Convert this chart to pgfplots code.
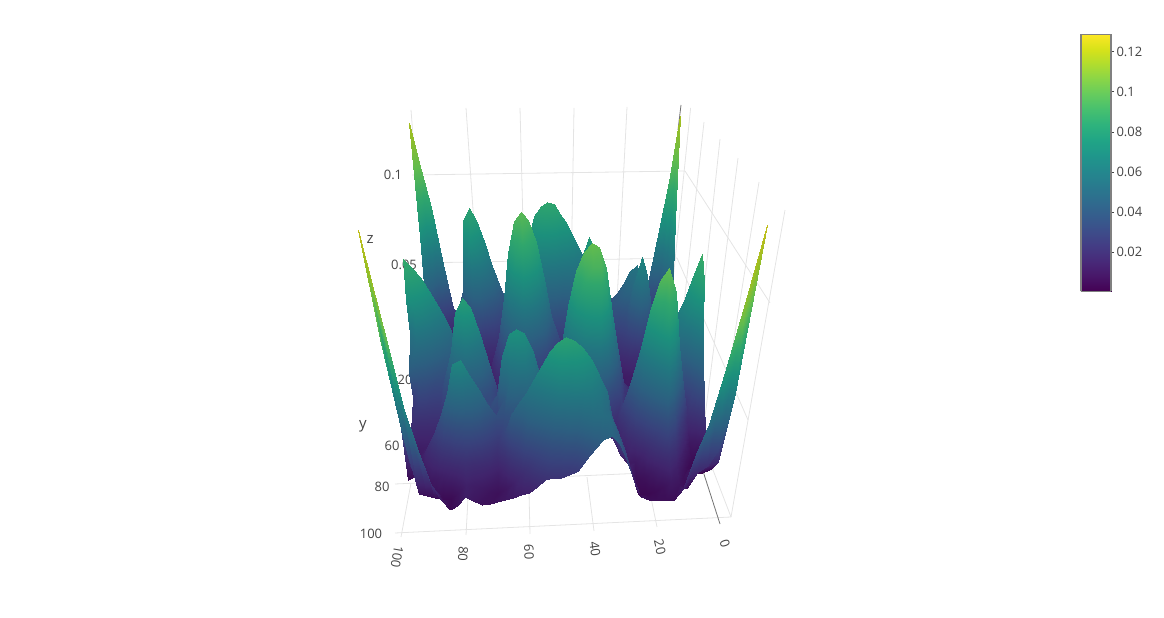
\documentclass[border=0pt]{standalone}
\usepackage{pgfplots}
\usepackage{pgfplotstable}
\usepackage{fontspec}
\setmainfont{Open Sans}
\pgfplotsset{compat=1.18}
\definecolor{tx}{HTML}{444444}
\definecolor{gl}{HTML}{E4E4E4}
\pgfplotstableread[row sep=\\]{
z\\
.128\\.106\\.088\\.058\\.033\\.030\\.035\\.056\\.078\\.072\\.060\\.048\\.038\\.030\\.025\\.026\\.032\\.052\\.072\\.080\\.084\\.084\\.080\\.075\\.068\\.059\\.050\\.044\\.040\\.037\\.035\\.037\\.040\\.043\\.045\\.040\\.033\\.050\\.073\\.098\\.128\\
.075\\.045\\.022\\.015\\.013\\.035\\.046\\.083\\.089\\.083\\.072\\.059\\.049\\.039\\.032\\.044\\.060\\.074\\.084\\.089\\.091\\.090\\.085\\.080\\.073\\.067\\.060\\.052\\.045\\.041\\.038\\.041\\.045\\.049\\.050\\.038\\.025\\.020\\.020\\.046\\.080\\
.040\\.026\\.015\\.011\\.010\\.025\\.040\\.060\\.075\\.067\\.058\\.049\\.040\\.033\\.028\\.037\\.048\\.060\\.070\\.073\\.072\\.070\\.066\\.062\\.060\\.060\\.062\\.057\\.050\\.045\\.042\\.045\\.050\\.057\\.060\\.046\\.030\\.020\\.014\\.025\\.040\\
.020\\.014\\.010\\.008\\.008\\.014\\.022\\.036\\.048\\.046\\.040\\.034\\.028\\.028\\.030\\.038\\.050\\.053\\.052\\.052\\.050\\.048\\.046\\.047\\.050\\.060\\.070\\.065\\.055\\.048\\.042\\.044\\.048\\.053\\.058\\.044\\.025\\.017\\.012\\.014\\.017\\
.012\\.010\\.008\\.007\\.007\\.009\\.012\\.018\\.025\\.025\\.024\\.023\\.024\\.032\\.042\\.056\\.068\\.062\\.050\\.042\\.036\\.031\\.030\\.040\\.053\\.070\\.080\\.072\\.058\\.046\\.035\\.034\\.038\\.053\\.069\\.060\\.042\\.026\\.011\\.010\\.012\\
.010\\.008\\.007\\.006\\.006\\.007\\.008\\.011\\.015\\.016\\.016\\.018\\.024\\.042\\.060\\.075\\.085\\.078\\.066\\.050\\.032\\.025\\.022\\.028\\.035\\.043\\.050\\.046\\.038\\.030\\.024\\.026\\.030\\.037\\.045\\.038\\.026\\.017\\.009\\.010\\.013\\
.015\\.012\\.010\\.009\\.008\\.007\\.007\\.008\\.010\\.012\\.015\\.025\\.036\\.056\\.078\\.093\\.097\\.093\\.083\\.065\\.046\\.035\\.025\\.023\\.022\\.025\\.028\\.027\\.025\\.021\\.018\\.018\\.020\\.022\\.025\\.022\\.018\\.015\\.012\\.015\\.020\\
.036\\.030\\.025\\.019\\.014\\.011\\.009\\.008\\.009\\.010\\.012\\.020\\.030\\.046\\.062\\.077\\.087\\.080\\.068\\.053\\.036\\.026\\.018\\.017\\.018\\.020\\.022\\.021\\.020\\.017\\.015\\.014\\.015\\.016\\.018\\.017\\.016\\.015\\.015\\.021\\.029\\
.062\\.055\\.048\\.040\\.032\\.024\\.016\\.012\\.009\\.009\\.010\\.015\\.022\\.033\\.045\\.056\\.065\\.060\\.050\\.038\\.024\\.022\\.022\\.032\\.042\\.045\\.045\\.039\\.032\\.024\\.016\\.014\\.014\\.015\\.016\\.016\\.017\\.019\\.022\\.032\\.044\\
.084\\.080\\.076\\.069\\.062\\.054\\.045\\.036\\.028\\.022\\.018\\.015\\.015\\.021\\.028\\.036\\.042\\.038\\.032\\.024\\.018\\.025\\.035\\.052\\.068\\.072\\.072\\.060\\.045\\.032\\.020\\.017\\.015\\.018\\.022\\.026\\.030\\.035\\.040\\.052\\.066\\
.068\\.065\\.062\\.056\\.050\\.044\\.038\\.035\\.035\\.029\\.022\\.016\\.012\\.013\\.016\\.020\\.025\\.023\\.020\\.019\\.020\\.033\\.050\\.066\\.080\\.085\\.085\\.072\\.055\\.038\\.024\\.021\\.020\\.024\\.030\\.038\\.046\\.055\\.063\\.074\\.085\\
.052\\.050\\.047\\.043\\.038\\.037\\.038\\.044\\.052\\.047\\.038\\.027\\.016\\.012\\.010\\.012\\.016\\.015\\.014\\.019\\.027\\.046\\.066\\.082\\.090\\.094\\.092\\.083\\.062\\.043\\.025\\.021\\.020\\.025\\.032\\.038\\.044\\.050\\.055\\.065\\.076\\
.039\\.036\\.034\\.031\\.030\\.039\\.050\\.068\\.074\\.070\\.057\\.043\\.028\\.020\\.014\\.014\\.014\\.013\\.012\\.017\\.024\\.038\\.055\\.069\\.080\\.086\\.086\\.072\\.052\\.036\\.022\\.022\\.025\\.034\\.045\\.041\\.036\\.038\\.040\\.050\\.060\\
.027\\.026\\.025\\.024\\.024\\.029\\.036\\.045\\.052\\.048\\.042\\.034\\.028\\.034\\.045\\.048\\.047\\.037\\.025\\.020\\.018\\.027\\.038\\.050\\.058\\.062\\.063\\.050\\.034\\.027\\.022\\.035\\.050\\.063\\.072\\.058\\.040\\.030\\.024\\.033\\.044\\
.019\\.018\\.018\\.018\\.018\\.020\\.024\\.029\\.033\\.032\\.030\\.031\\.035\\.054\\.064\\.066\\.064\\.055\\.042\\.030\\.020\\.020\\.022\\.027\\.032\\.035\\.035\\.028\\.019\\.027\\.040\\.054\\.072\\.085\\.090\\.080\\.056\\.037\\.020\\.023\\.029\\
.013\\.013\\.014\\.014\\.016\\.027\\.038\\.048\\.055\\.047\\.038\\.032\\.028\\.037\\.048\\.052\\.052\\.047\\.040\\.034\\.030\\.029\\.028\\.028\\.028\\.024\\.020\\.016\\.014\\.021\\.030\\.041\\.052\\.063\\.073\\.060\\.038\\.023\\.012\\.013\\.016\\
.010\\.012\\.015\\.021\\.027\\.035\\.045\\.058\\.060\\.053\\.046\\.039\\.033\\.033\\.035\\.036\\.038\\.041\\.045\\.050\\.055\\.057\\.055\\.052\\.048\\.041\\.032\\.022\\.014\\.015\\.020\\.027\\.036\\.045\\.052\\.040\\.024\\.014\\.008\\.006\\.007\\
.007\\.009\\.012\\.016\\.020\\.024\\.028\\.032\\.035\\.035\\.032\\.027\\.022\\.028\\.038\\.043\\.048\\.054\\.060\\.066\\.070\\.072\\.070\\.067\\.062\\.055\\.047\\.032\\.016\\.012\\.012\\.016\\.022\\.028\\.033\\.025\\.014\\.008\\.005\\.005\\.007\\
.040\\.020\\.008\\.010\\.012\\.014\\.016\\.018\\.020\\.019\\.018\\.016\\.014\\.018\\.024\\.030\\.036\\.040\\.044\\.048\\.052\\.053\\.054\\.053\\.052\\.049\\.044\\.035\\.024\\.015\\.008\\.009\\.012\\.016\\.020\\.015\\.009\\.012\\.012\\.014\\.016\\
.080\\.038\\.010\\.009\\.008\\.007\\.007\\.010\\.014\\.013\\.012\\.010\\.009\\.011\\.014\\.018\\.022\\.026\\.030\\.033\\.035\\.037\\.038\\.041\\.044\\.045\\.044\\.037\\.028\\.016\\.006\\.006\\.007\\.009\\.012\\.010\\.008\\.016\\.019\\.027\\.053\\
.122\\.088\\.056\\.036\\.020\\.012\\.007\\.009\\.013\\.011\\.009\\.009\\.010\\.011\\.012\\.013\\.014\\.017\\.020\\.021\\.021\\.022\\.024\\.029\\.034\\.038\\.040\\.036\\.028\\.018\\.010\\.008\\.008\\.008\\.008\\.013\\.030\\.044\\.066\\.093\\.120\\
}\surfdata
\newcommand{\xv}{(100-2.5*mod(\coordindex,41))}
\newcommand{\yv}{(4.85*floor(\coordindex/41))}
\newcommand{\dn}{(1-0.00008*\xv-0.00286*\yv-1.2707*\thisrow{z})}
\newcommand{\gline}[5][gl]{\addplot3[#1,line width=0.8pt,forget plot] coordinates {(#2,#3,0)(#4,#5,0)};}
\newcommand{\lab}[4][0]{\node[text=tx,font=\fontsize{13}{15}\selectfont,rotate=#1] at (axis cs:#2,#3,0) {#4};}
\begin{document}
\begin{tikzpicture}
\path[use as bounding box] (0pt,0pt) rectangle (1164pt,618pt);
\pgfplotsset{
  colormap={surfvir}{rgb255=(58,1,74) rgb255=(64,36,108) rgb255=(56,66,124) rgb255=(44,95,128) rgb255=(34,118,128) rgb255=(28,144,124) rgb255=(48,166,108) rgb255=(98,188,78) rgb255=(150,190,38) rgb255=(195,190,28)}
}
\begin{axis}[name=main,at={(0pt,0pt)},anchor=south west,scale only axis,width=1164pt,height=618pt,
  hide axis,view={0}{90},xmin=0,xmax=1164,ymin=0,ymax=618,zmin=-1,zmax=1,y dir=reverse,clip=true]
% back wall x grid
\gline{411}{110}{428}{330}
\gline{466}{108}{482}{340}
\gline{520}{108}{526}{340}
\gline{574}{108}{570}{340}
\gline{627}{107}{615}{340}
% right wall y grid and edges
\gline{690.6}{108}{673}{280}
\gline{704}{122}{680}{340}
\gline{720}{139}{692}{400}
\gline{738}{158}{702}{440}
\gline{759}{182}{713}{470}
\gline{785}{210}{731}{517}
% z grid
\gline{412}{175}{685}{171}
\gline{420}{263}{677}{258}
\gline{685}{171}{770}{303}
\gline{677}{258}{748}{420}
% floor
\gline{395}{533}{731}{517}
\gline{395}{484}{713}{470}
\gline{401}{537}{411}{483}
\gline{466}{535}{468}{498}
\gline{530}{534}{529}{493}
\gline{594}{531}{587}{477}
\gline{657}{527}{650}{493}
\gline{731}{517}{713}{470}
\gline[gray!90!black]{720}{524}{702}{468}
\gline[gray!90!black]{681}{105}{678}{130}
% labels behind the surface
\lab{393}{175}{0.1}
\lab{404}{265}{0.05}
\lab{405}{380}{20}
\lab{392}{446}{60}
\lab{382}{487}{80}
\lab{371}{534}{100}
\node[text=tx,font=\fontsize{15}{17}\selectfont] at (axis cs:370,240,0) {z};
\node[text=tx,font=\fontsize{15}{17}\selectfont] at (axis cs:363,426,0) {y};
\lab[-100]{397}{557}{100}
\lab[-93]{463}{554}{80}
\lab[-88]{529}{552}{60}
\lab[-82]{595}{549}{40}
\lab[-77]{660}{547}{20}
\lab[-72]{725}{544}{0}
\addplot3[surf,shader=interp,z buffer=none,colormap name=surfvir,mesh/rows=21,mesh/cols=41,
  point meta={\thisrow{z}*(0.86+0.0025*\yv)},point meta min=0.004,point meta max=0.118]
 table[x index=0,y index=0,z index=0,
       x expr={(662-2.3*\xv-1.479*\yv-722.6*\thisrow{z})/\dn+10*(\yv/97)^8*(1-\xv/100)^12},
       y expr={(356+0.043*\xv+0.153*\yv-2020.3*\thisrow{z})/\dn},
       z expr=0] {\surfdata};
\end{axis}
\begin{axis}[at={(1081pt,326.5pt)},anchor=south west,scale only axis,width=30pt,height=257pt,
  xmin=0,xmax=1,ymin=0.0005,ymax=0.1285,xtick=\empty,ytick={0.02,0.04,0.06,0.08,0.1,0.12},
  yticklabels={0.02,0.04,0.06,0.08,0.1,0.12},
  ytick pos=right,ytick style={draw=tx,line width=0.5pt},tick align=outside,major tick length=3pt,
  yticklabel style={text=tx,font=\fontsize{13}{15}\selectfont,xshift=-1pt},
  axis line style={draw=gray,line width=1.2pt},axis on top,colormap/viridis,view={0}{90},zmin=-1,zmax=1]
\addplot3[surf,shader=interp,point meta=y,point meta min=0.0005,point meta max=0.1285] coordinates {
(0,0.0005,0) (1,0.0005,0)

(0,0.1285,0) (1,0.1285,0)
};
\end{axis}
\end{tikzpicture}
\end{document}
